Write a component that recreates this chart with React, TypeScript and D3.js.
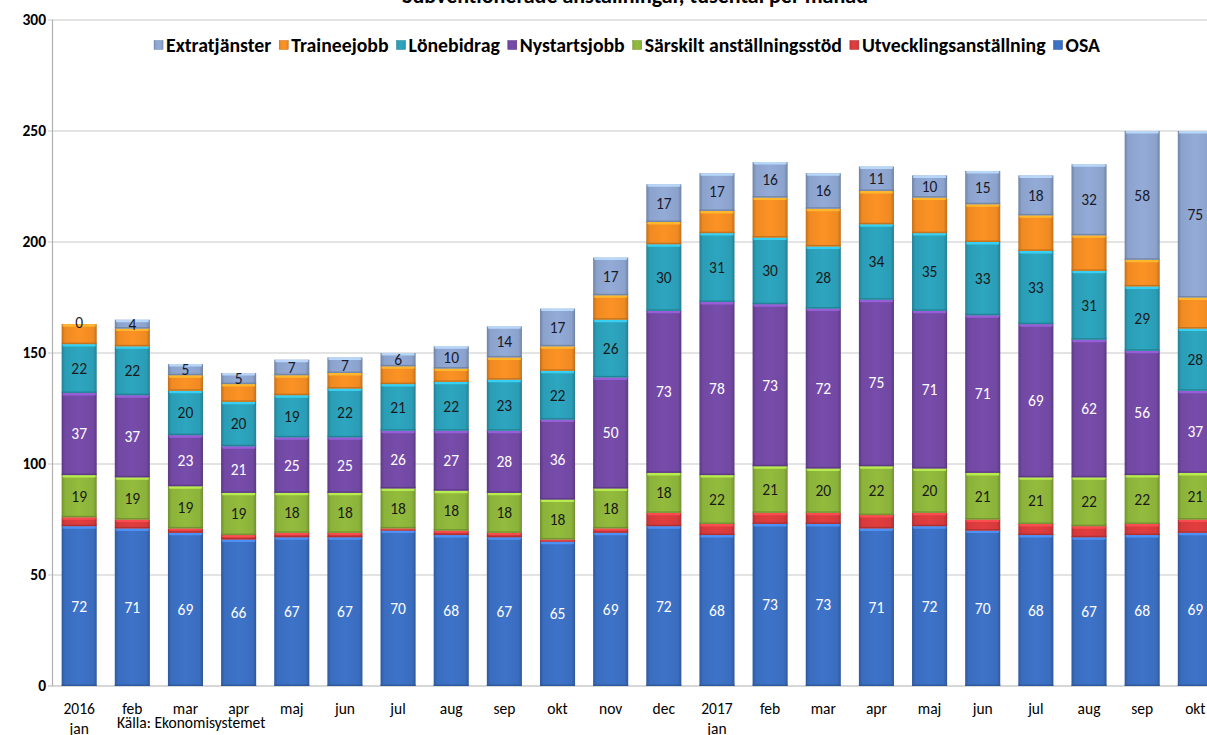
import React, { useEffect, useRef } from "react";
import * as d3 from "d3";

const months = ["2016|jan", "feb", "mar", "apr", "maj", "jun", "jul", "aug", "sep", "okt", "nov", "dec", "2017|jan", "feb", "mar", "apr", "maj", "jun", "jul", "aug", "sep", "okt"];
const seriesNames = ["OSA", "Utvecklingsanställning", "Särskilt anställningsstöd", "Nystartsjobb", "Lönebidrag", "Traineejobb", "Extratjänster"];
const osa = [72, 71, 69, 66, 67, 67, 70, 68, 67, 65, 69, 72, 68, 73, 73, 71, 72, 70, 68, 67, 68, 69];
const utv = [4, 4, 2, 2, 2, 2, 1, 2, 2, 1, 2, 6, 5, 5, 5, 6, 6, 5, 5, 5, 5, 6];
const sar = [19, 19, 19, 19, 18, 18, 18, 18, 18, 18, 18, 18, 22, 21, 20, 22, 20, 21, 21, 22, 22, 21];
const nys = [37, 37, 23, 21, 25, 25, 26, 27, 28, 36, 50, 73, 78, 73, 72, 75, 71, 71, 69, 62, 56, 37];
const lon = [22, 22, 20, 20, 19, 22, 21, 22, 23, 22, 26, 30, 31, 30, 28, 34, 35, 33, 33, 31, 29, 28];
const tra = [9, 8, 7, 8, 9, 7, 8, 6, 10, 11, 11, 10, 10, 18, 17, 15, 16, 17, 16, 16, 12, 14];
const ext = [0, 4, 5, 5, 7, 7, 6, 10, 14, 17, 17, 17, 17, 16, 16, 11, 10, 15, 18, 32, 58, 75];
const yTicks = [0, 50, 100, 150, 200, 250, 300];
const legendOrder = ["Extratjänster", "Traineejobb", "Lönebidrag", "Nystartsjobb", "Särskilt anställningsstöd", "Utvecklingsanställning", "OSA"];

const seriesValues = [osa, utv, sar, nys, lon, tra, ext];
const colors = ["#3a6dbf", "#d63a3c", "#8bb23a", "#7148a2", "#2b9db6", "#ef8a22", "#8ba2cc"];
const labelled = [true, false, true, true, true, false, true];
const labelColors = ["#ffffff", "#000", "#1a1a1a", "#ffffff", "#1a1a1a", "#000", "#1a1a2a"];

const FONT = "Carlito, 'Liberation Sans Narrow', 'Open Sans', sans-serif";

export default function App() {
  const ref = useRef<SVGSVGElement>(null);
  useEffect(() => {
    const svg = d3.select(ref.current);
    svg.selectAll("*").remove();
    const W = 1207;
    const x = d3.scaleBand<string>().domain(months.map((m, i) => i + "")).range([52.6, 52.6 + 22 * 53.15]).paddingInner(0.34).paddingOuter(0.17);
    const y = d3.scaleLinear().domain([0, 300]).range([686, 20]);

    const defs = svg.append("defs");
    colors.forEach((c, i) => {
      const g = defs.append("linearGradient").attr("id", "g" + i).attr("x1", 0).attr("x2", 1).attr("y1", 0).attr("y2", 0);
      const base = d3.color(c)!;
      g.append("stop").attr("offset", "0%").attr("stop-color", base.darker(0.6).toString());
      g.append("stop").attr("offset", "10%").attr("stop-color", base.toString());
      g.append("stop").attr("offset", "50%").attr("stop-color", base.brighter(0.15).toString());
      g.append("stop").attr("offset", "90%").attr("stop-color", base.toString());
      g.append("stop").attr("offset", "100%").attr("stop-color", base.darker(0.6).toString());
    });

    // title (mostly cut off at the top edge, as in the reference)
    svg.append("text").attr("x", 635).attr("y", 3).attr("text-anchor", "middle")
      .attr("font-family", FONT).attr("font-weight", "bold").attr("font-size", 22).attr("fill", "#000")
      .text("Subventionerade anställningar, tusental per månad");

    // gridlines
    svg.append("g").selectAll("line").data(yTicks.filter(t => t > 0)).join("line")
      .attr("x1", 48).attr("x2", W).attr("y1", d => y(d)).attr("y2", d => y(d))
      .attr("stroke", "#c8c8c8").attr("stroke-width", 1.2);
    // axes
    svg.append("line").attr("x1", 52.5).attr("x2", 52.5).attr("y1", y(300)).attr("y2", y(0)).attr("stroke", "#b0b0b0").attr("stroke-width", 1.2);
    svg.append("line").attr("x1", 48).attr("x2", W).attr("y1", y(0)).attr("y2", y(0)).attr("stroke", "#b0b0b0").attr("stroke-width", 1.2);

    svg.append("g").selectAll("text").data(yTicks).join("text")
      .attr("x", 46).attr("y", d => y(d)).attr("dy", "0.35em").attr("text-anchor", "end")
      .attr("font-family", FONT).attr("font-weight", "bold").attr("font-size", 15.5).attr("fill", "#000")
      .text(d => d);

    // stacks
    const table = months.map((m, i) => {
      const o: any = { key: i + "" };
      seriesNames.forEach((s, k) => (o[s] = seriesValues[k][i]));
      return o;
    });
    const stack = d3.stack<any>().keys(seriesNames)(table);
    const bw = x.bandwidth();
    stack.forEach((layer, k) => {
      const g = svg.append("g");
      layer.forEach((d: any) => {
        const x0 = x(d.data.key)!;
        const y0 = y(d[1]), y1 = y(d[0]);
        const h = y1 - y0;
        if (h <= 0) return;
        g.append("rect").attr("x", x0).attr("y", y0).attr("width", bw).attr("height", h).attr("fill", `url(#g${k})`);
        const base = d3.color(colors[k])!;
        g.append("rect").attr("x", x0 + 1).attr("y", y0).attr("width", bw - 2).attr("height", Math.min(2.5, h / 2))
          .attr("fill", base.brighter(0.9).toString()).attr("opacity", 0.85).attr("rx", 1);
        g.append("rect").attr("x", x0).attr("y", y1 - Math.min(1.5, h / 3)).attr("width", bw).attr("height", Math.min(1.5, h / 3))
          .attr("fill", base.darker(0.8).toString()).attr("opacity", 0.7);
      });
    });
    // labels
    stack.forEach((layer, k) => {
      if (!labelled[k]) return;
      svg.append("g").selectAll("text").data(layer).join("text")
        .attr("x", (d: any) => x(d.data.key)! + bw / 2)
        .attr("y", (d: any) => (d[1] - d[0] === 0 ? y(d[1]) - 2 : (y(d[0]) + y(d[1])) / 2))
        .attr("dy", "0.35em").attr("text-anchor", "middle")
        .attr("font-family", FONT).attr("font-size", 15.5).attr("fill", labelColors[k])
        .text((d: any) => d[1] - d[0]);
    });

    // x labels
    const xl = svg.append("g");
    months.forEach((m, i) => {
      const parts = m.split("|");
      const cx = x(i + "")! + bw / 2;
      parts.forEach((p, j) => {
        xl.append("text").attr("x", cx).attr("y", 709 + j * 20).attr("dy", "0.35em").attr("text-anchor", "middle")
          .attr("font-family", FONT).attr("font-size", 15.5).attr("fill", "#000").text(p);
      });
    });
    svg.append("text").attr("x", 117).attr("y", 723).attr("dy", "0.35em")
      .attr("font-family", FONT).attr("font-size", 15.5).attr("fill", "#000").text("Källa: Ekonomisystemet");

    // legend
    const lg = svg.append("g");
    const gap = 8;
    const items = legendOrder.map(name => {
      const k = seriesNames.indexOf(name);
      const gi = lg.append("g");
      gi.append("rect").attr("width", 9).attr("height", 9).attr("y", -4.5).attr("fill", `url(#g${k})`).attr("stroke", d3.color(colors[k])!.darker(0.5).toString()).attr("stroke-width", 0.5);
      const t = gi.append("text").attr("x", 12).attr("dy", "0.35em").attr("font-family", FONT).attr("font-weight", "bold").attr("font-size", 14).attr("fill", "#000").text(name);
      return { gi, t };
    });
    const targetW = 946;
    const measure = () => items.map(it => 12 + (it.t.node() as SVGTextElement).getComputedTextLength());
    let widths = measure();
    let natural = widths.reduce((a, b) => a + b, 0) + gap * (items.length - 1);
    const textTotal = widths.reduce((a, b) => a + b - 12, 0);
    const sc = (targetW - 12 * items.length - gap * (items.length - 1)) / textTotal;
    items.forEach(it => it.t.attr("font-size", 14 * sc));
    widths = measure();
    natural = widths.reduce((a, b) => a + b, 0) + gap * (items.length - 1);
    let cx = 627 - natural / 2;
    items.forEach((it, i) => {
      it.gi.attr("transform", `translate(${cx},45)`);
      cx += widths[i] + gap;
    });
  }, []);
  return (
    <svg ref={ref} width={1207} height={735} style={{ position: "absolute", left: 0, top: 0, background: "#fff" }} />
  );
}
